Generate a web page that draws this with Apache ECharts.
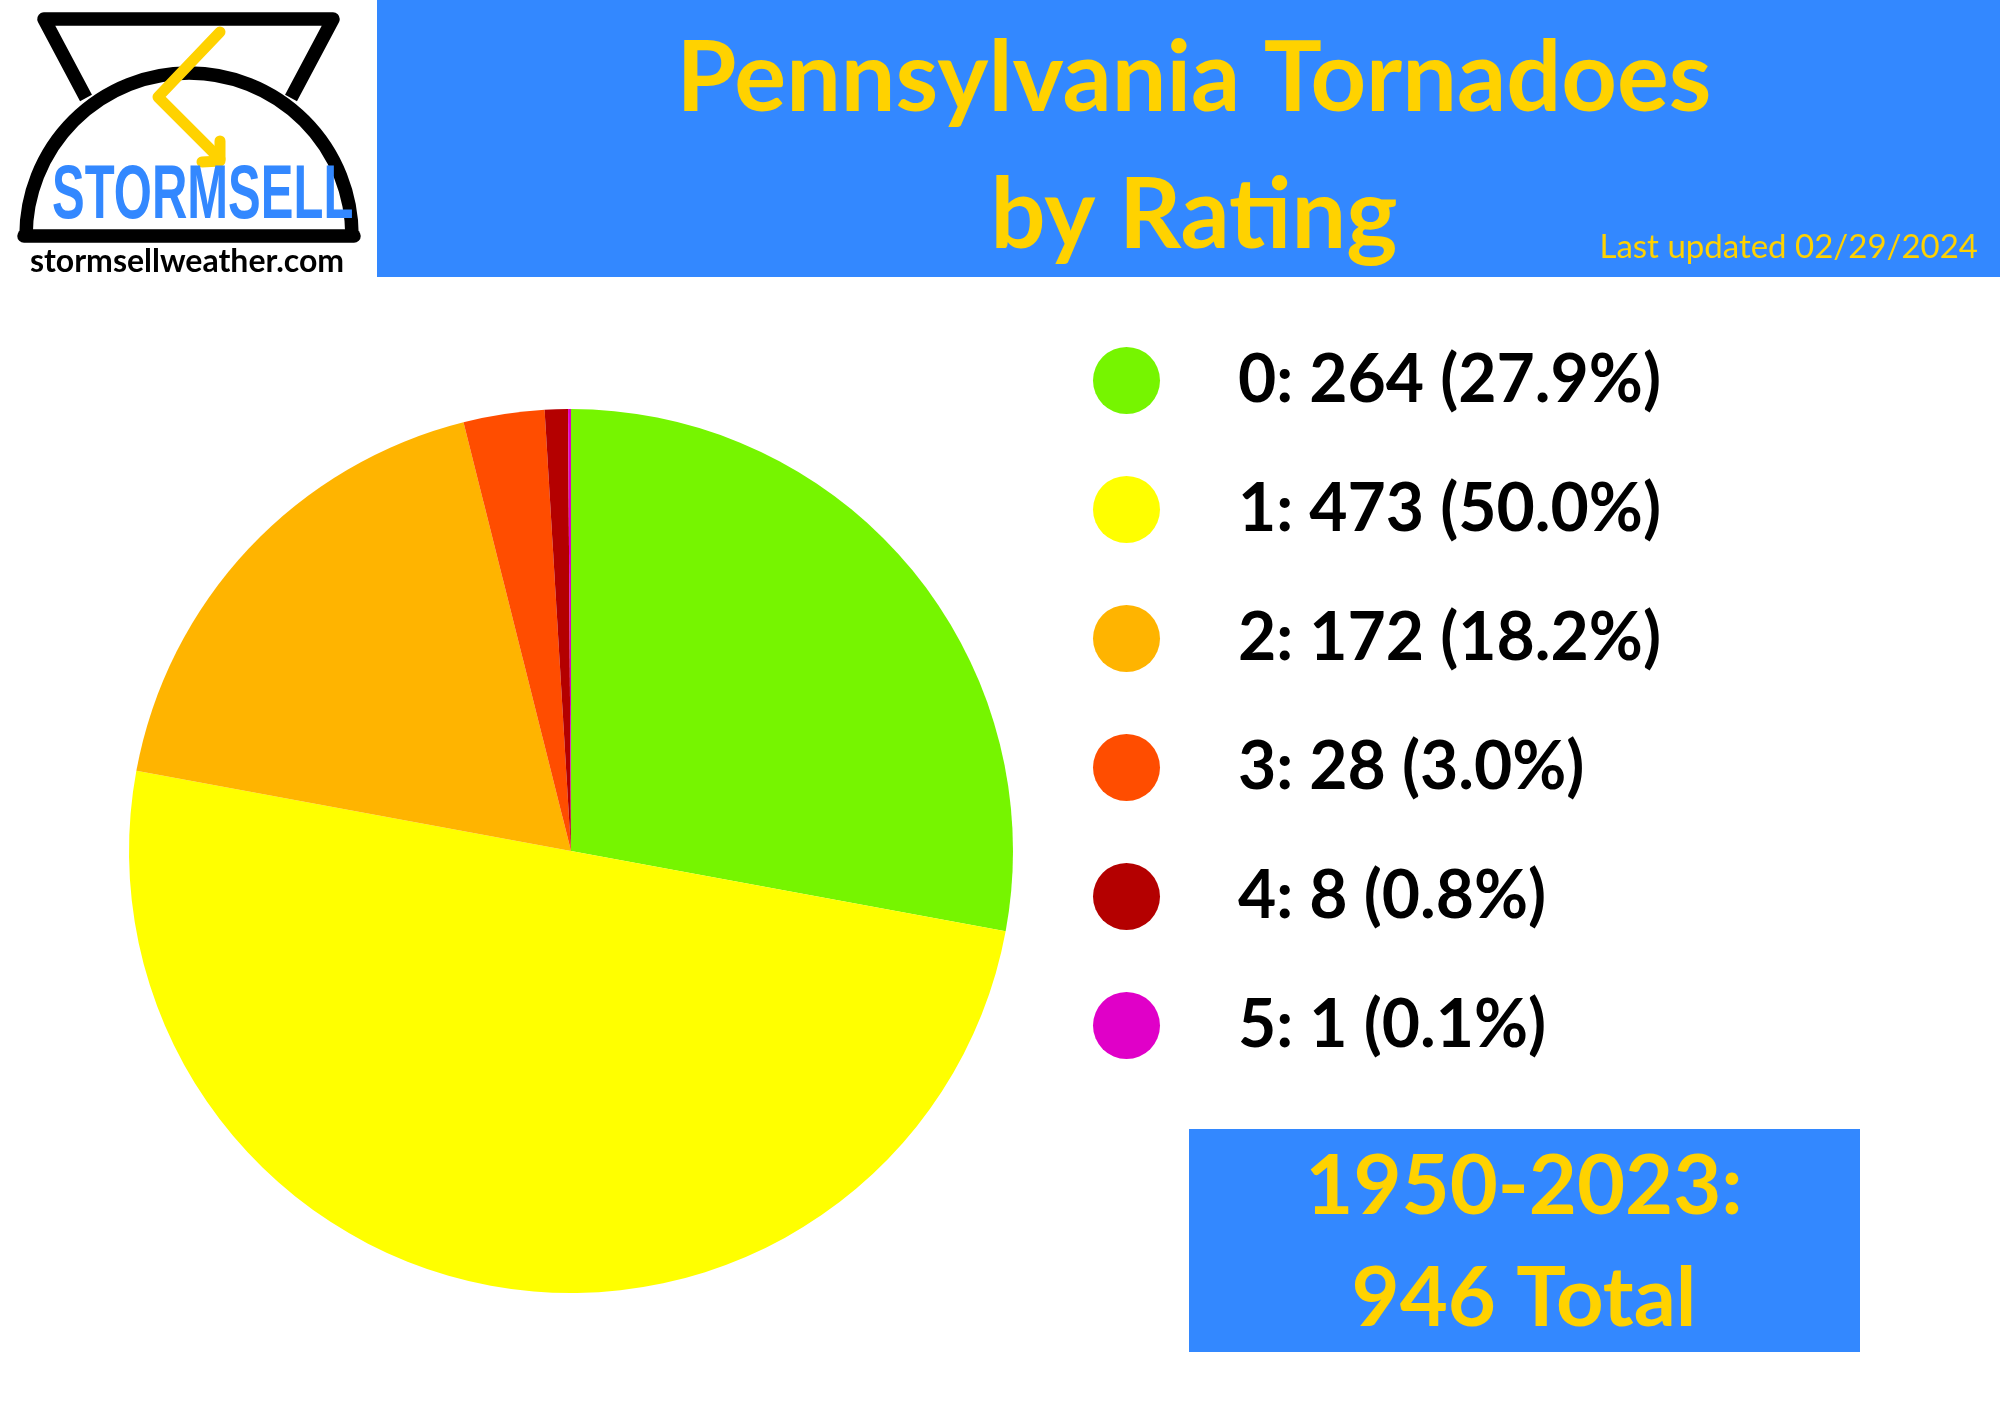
<!DOCTYPE html>
<html><head><meta charset="utf-8">
<style>html,body{margin:0;padding:0;background:#fff}#c{width:2000px;height:1414px}</style>
<script src="https://cdn.jsdelivr.net/npm/echarts@6/dist/echarts.min.js"></script>
</head><body><div id="c"></div>
<script>
const ratings = ['0','1','2','3','4','5'];
const counts = [264,473,172,28,8,1];
const percents = ['27.9%','50.0%','18.2%','3.0%','0.8%','0.1%'];
const colors = ['#76F500','#FFFF00','#FFB400','#FF4D00','#B40000','#E000C8'];
const titleLines = ['Pennsylvania Tornadoes','by Rating'];
const updated = 'Last updated 02/29/2024';
const periodLines = ['1950-2023:','946 Total'];
const BLUE='#3388FF', GOLD='#FFD200', FONT='Lato';

const chart = echarts.init(document.getElementById('c'), null, {renderer:'canvas'});
const blk = {stroke:'#000',fill:null,lineWidth:13.5,lineJoin:'round',lineCap:'butt'};
const bolt = {stroke:GOLD,fill:null,lineWidth:11,lineCap:'round',lineJoin:'round'};
chart.setOption({
  animation:false,
  backgroundColor:'#fff',
  title:{
    text:titleLines.join('\n'),
    left:1189, top:6, textAlign:'center',
    textStyle:{fontFamily:FONT,fontWeight:'bold',fontSize:97,lineHeight:137,color:GOLD}
  },
  legend:{
    orient:'vertical', left:1088, top:342,
    itemWidth:67,itemHeight:67,itemGap:62,icon:'circle',selectedMode:false,
    data:ratings,
    formatter:n=>{const i=ratings.indexOf(n);return `${n}: ${counts[i]} (${percents[i]})`;},
    textStyle:{fontFamily:FONT,fontWeight:'bold',fontSize:66,lineHeight:67,color:'#000',padding:[0,0,0,73]}
  },
  series:[{
    type:'pie',center:[571,851],radius:[0,442],startAngle:90,clockwise:true,silent:true,
    label:{show:false},labelLine:{show:false},
    data:ratings.map((r,i)=>({name:r,value:counts[i],itemStyle:{color:colors[i]}}))
  }],
  graphic:[
    {type:'rect',z:1,shape:{x:377,y:0,width:1623,height:277},style:{fill:BLUE}},
    {type:'rect',z:1,shape:{x:1189,y:1129,width:671,height:223},style:{fill:BLUE}},
    {type:'text',z:3,x:1978,y:247,style:{text:updated,fill:GOLD,font:'33px '+FONT,align:'right',verticalAlign:'middle'}},
    {type:'text',z:3,x:1524,y:1187,style:{text:periodLines[0],fill:GOLD,font:'bold 83px '+FONT,align:'center',verticalAlign:'middle'}},
    {type:'text',z:3,x:1524,y:1299,style:{text:periodLines[1],fill:GOLD,font:'bold 83px '+FONT,align:'center',verticalAlign:'middle'}},
    // logo
    {type:'polyline',z:3,shape:{points:[[86,98],[44,19],[333,19],[291,98]]},style:blk},
    {type:'arc',z:3,shape:{cx:189,cy:236,r:163,startAngle:Math.PI,endAngle:2*Math.PI},style:blk},
    {type:'line',z:3,shape:{x1:24,y1:236,x2:354,y2:236},style:Object.assign({},blk,{lineCap:'round'})},
    {type:'polyline',z:4,shape:{points:[[220,32],[158,97],[220,159]]},style:bolt},
    {type:'polyline',z:4,shape:{points:[[220,141],[220,161],[202,162]]},style:bolt},
    {type:'text',z:5,x:52,y:197,scaleX:0.645,style:{text:'STORMSELL',fill:BLUE,font:'bold 76px "Liberation Sans"',align:'left',verticalAlign:'middle'}},
    {type:'text',z:5,x:187,y:262,style:{text:'stormsellweather.com',fill:'#000',font:'bold 32px '+FONT,align:'center',verticalAlign:'middle'}}
  ]
});
</script></body></html>
